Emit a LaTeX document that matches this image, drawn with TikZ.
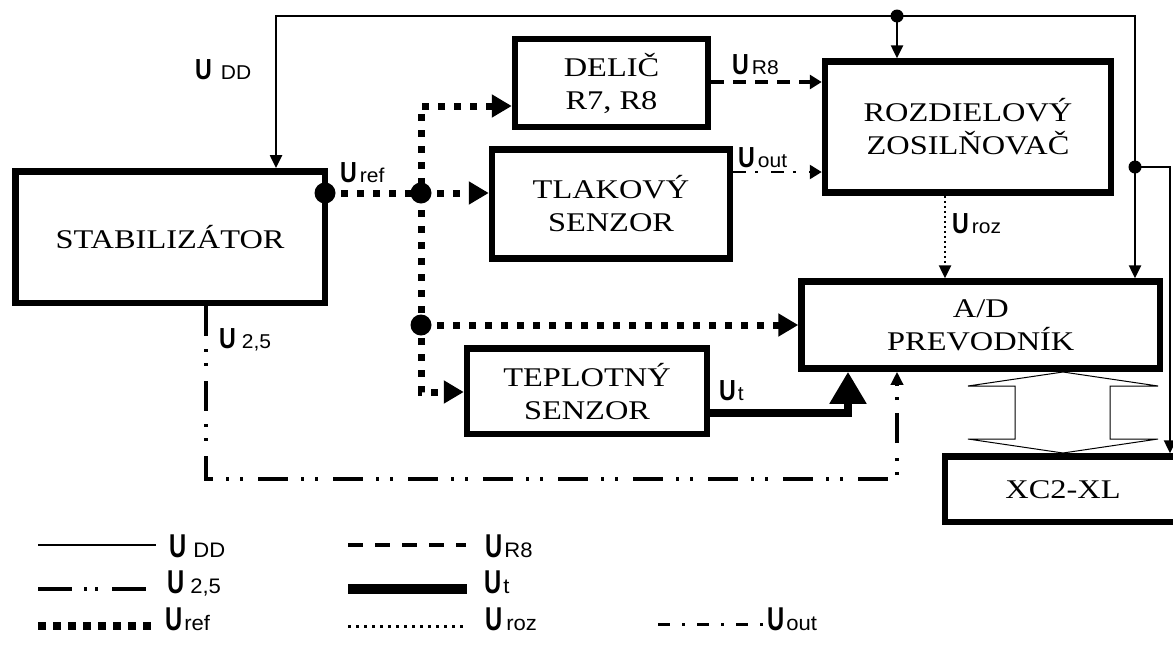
\documentclass[tikz,border=0pt]{standalone}
\usepackage{fontspec}
\setmainfont{Liberation Serif}
\newfontfamily\boxfont{Liberation Serif}[FakeStretch=1.2]
\newfontfamily\lblfont{Liberation Sans}[FakeStretch=0.8]
\newfontfamily\lgdfont{Liberation Sans}[FakeStretch=0.72]
\newfontfamily\subfont{Liberation Sans}[FakeStretch=1.05]
\usetikzlibrary{arrows.meta}
\newcommand\labU[2][4pt]{{\bfseries U}\kern#1{\subfont\mdseries\fontsize{20}{20}\selectfont #2}}
\newcommand\lgdU[2][4pt]{{\bfseries U}\kern#1{\subfont\mdseries\fontsize{21}{21}\selectfont #2}}
\begin{document}
\begin{tikzpicture}[x=1pt,y=-1pt,
  blk/.style={draw, line width=6.5pt, inner sep=0pt, align=center,
    font=\boxfont\fontsize{27}{33}\selectfont},
  lab/.style={anchor=base west, inner sep=0pt, font=\lblfont\fontsize{29}{29}\selectfont},
  lgd/.style={anchor=base west, inner sep=0pt, font=\lgdfont\fontsize{33}{33}\selectfont},
  udd/.style={line width=2.5pt},
  uref/.style={line width=7pt, dash pattern=on 7pt off 9pt},
  ur8/.style={line width=3.5pt, dash pattern=on 13pt off 9pt},
  uout/.style={line width=2.5pt, dash pattern=on 13pt off 9pt on 3pt off 13pt},
  uroz/.style={line width=2.5pt, dash pattern=on 2pt off 3pt},
  ut/.style={line width=8pt, line join=miter},
  u25/.style={line width=3.5pt, dash pattern=on 30pt off 13pt on 3pt off 11pt on 3pt off 15pt},
  thinarr/.style={-{Triangle[length=13pt,width=12pt]}},
  thinboth/.style={{Triangle[length=13pt,width=12pt]}-{Triangle[length=13pt,width=12pt]}},
  refarr/.style={-{Triangle[length=20pt,width=22pt]}},
  refboth/.style={{Triangle[length=20pt,width=22pt]}-{Triangle[length=20pt,width=22pt]}},
  midarr/.style={-{Triangle[length=12pt,width=14pt]}},
  bigarr/.style={-{Triangle[length=32pt,width=35pt]}},
  bigdot/.style={circle, fill, inner sep=0pt, minimum size=21pt},
  smalldot/.style={circle, fill, inner sep=0pt, minimum size=13pt}
]
\useasboundingbox (0,0) rectangle (1173,646);
\clip (0,0) rectangle (1173,646);

% blocks
\node[blk, minimum width=309.5pt, minimum height=131.5pt] (stab) at (170,237) {STABILIZÁTOR};
\node[blk, minimum width=193pt, minimum height=88pt] (delic) at (611.5,83) {DELIČ\\R7, R8};
\node[blk, minimum width=238pt, minimum height=109pt] (tlak) at (611,204) {TLAKOVÝ\\SENZOR};
\node[blk, minimum width=286pt, minimum height=131pt] (rozd) at (968,127) {ROZDIELOVÝ\\ZOSILŇOVAČ};
\node[blk, minimum width=358.5pt, minimum height=87pt] (ad) at (980.75,325) {A/D\\PREVODNÍK};
\node[blk, minimum width=240pt, minimum height=85.5pt] (tepl) at (587,391.25) {TEPLOTNÝ\\SENZOR};
\node[blk, minimum width=236pt, minimum height=65.5pt] (xc) at (1063,489.25) {XC2-XL};

% junction coordinates
\coordinate (c1) at (276,16);
\coordinate (c2) at (897,16);
\coordinate (c3) at (1135,16);
\coordinate (c4) at (1135,167);
\coordinate (c5) at (1170,167);
\coordinate (r0) at (325,193);
\coordinate (r1) at (421,193);
\coordinate (r2) at (421,106);
\coordinate (r3) at (421,392);
\coordinate (r4) at (421,325);
\coordinate (q8) at (0,82);
\coordinate (qo) at (0,172);
\coordinate (qz) at (945,0);
\coordinate (t1) at (848,413);
\coordinate (d1) at (206,479);
\coordinate (d2) at (897,479);

% U_DD
\draw[udd,thinboth] (stab.north -| c1) -- (c1) -- (c3) -- (ad.north -| c3);
\draw[udd,thinarr] (c2) -- (rozd.north -| c2);
\draw[udd,thinarr] (c4) -- (c5) -- (xc.north -| c5);
\node[smalldot] (j1) at (c2) {};
\node[smalldot] (j2) at (c4) {};

% U_ref
\draw[uref,refarr] (r0) -- (tlak.west |- r0);
\draw[uref,refboth] (delic.west |- r2) -- (r2) -- (r3) -- (tepl.west |- r3);
\draw[uref,refarr] (r4) -- (ad.west |- r4);
\node[bigdot] (j3) at (r0) {};
\node[bigdot] (j4) at (r1) {};
\node[bigdot] (j5) at (r4) {};

% other signals
\draw[ur8,midarr] (delic.east |- q8) -- (rozd.west |- q8);
\draw[uout,midarr] (tlak.east |- qo) -- (rozd.west |- qo);
\draw[uroz,thinarr] (rozd.south -| qz) -- (ad.north -| qz);
\draw[ut,bigarr] (tepl.east |- t1) -- (t1) -- (ad.south -| t1);
\draw[u25,thinarr] (stab.south -| d1) -- (d1) -- (d2) -- (ad.south -| d2);

% hollow bus arrow
\draw[line width=1pt, fill=white] (1063,372) -- (1158,386) -- (1110,386) -- (1110,439)
  -- (1158,439) -- (1063,453) -- (968,439) -- (1015,439) -- (1015,386) -- (968,386) -- cycle;

% labels
\node[lab] (lDD) at (195,79) {\labU[9pt]{DD}};
\node[lab] (lref) at (340,182) {\labU[3pt]{ref}};
\node[lab] (lR8) at (732,74) {\labU[3pt]{R8}};
\node[lab] (lout) at (738,167) {\labU[3pt]{out}};
\node[lab] (lroz) at (952,233) {\labU[3pt]{roz}};
\node[lab] (lt) at (719,400) {\labU[2pt]{t}};
\node[lab] (l25) at (219,348) {\labU[6pt]{2,5}};

% legend
\coordinate (a1) at (38,545);  \coordinate (b1) at (156,545);
\coordinate (a2) at (38,589);  \coordinate (b2) at (156,589);
\coordinate (a3) at (38,626);  \coordinate (b3) at (156,626);
\coordinate (m1) at (348,545); \coordinate (n1) at (466,545);
\coordinate (m2) at (348,589); \coordinate (n2) at (467,589);
\coordinate (m3) at (348,626); \coordinate (n3) at (466,626);
\coordinate (o3) at (658,624); \coordinate (p3) at (764,624);
\draw[udd] (a1) -- (b1);
\draw[line width=3.5pt, dash pattern=on 34pt off 12pt on 3pt off 8pt on 3pt off 14pt] (a2) -- (b2);
\draw[line width=8pt, dash pattern=on 8pt off 7pt] (a3) -- (b3);
\draw[line width=3.5pt, dash pattern=on 15pt off 12pt] (m1) -- (n1);
\draw[line width=10pt] (m2) -- (n2);
\draw[line width=3pt, dash pattern=on 3pt off 5pt] (m3) -- (n3);
\draw[line width=3pt, dash pattern=on 12pt off 12pt on 3pt off 12pt] (o3) -- (p3);
\node[lgd] (gDD) at (169,557) {\lgdU[7pt]{DD}};
\node[lgd] (g25) at (167,593) {\lgdU[6pt]{2,5}};
\node[lgd] (gref) at (165,630) {\lgdU[2pt]{ref}};
\node[lgd] (gR8) at (485,557) {\lgdU[2pt]{R8}};
\node[lgd] (gt) at (484,593) {\lgdU[2pt]{t}};
\node[lgd] (groz) at (485,630) {\lgdU[4pt]{roz}};
\node[lgd] (gout) at (767,630) {\lgdU[2pt]{out}};
\end{tikzpicture}
\end{document}
